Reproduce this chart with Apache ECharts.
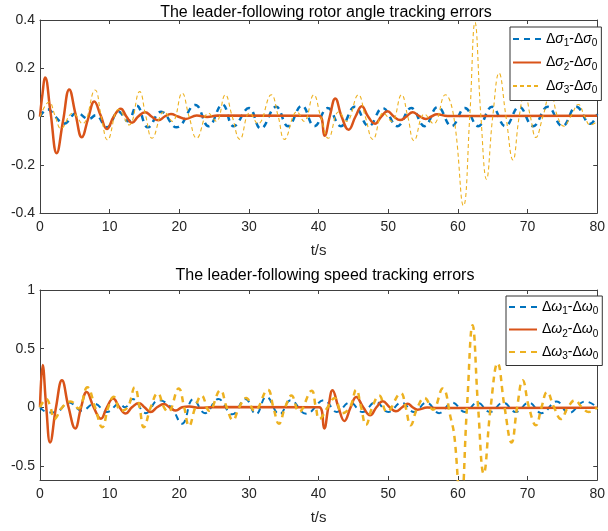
<!DOCTYPE html>
<html><head><meta charset="utf-8">
<script src="https://cdn.jsdelivr.net/npm/echarts@6/dist/echarts.min.js"></script>
<style>html,body{margin:0;padding:0;background:#fff}#c{width:608px;height:531px}</style>
</head><body><div id="c"></div>
<script>
// ---------- data (t in s, value) ----------
const titleTop = 'The leader-following rotor angle tracking errors';
const titleBottom = 'The leader-following speed tracking errors';
const xTicks = [0, 10, 20, 30, 40, 50, 60, 70, 80];
const yTicksTop = [-0.4, -0.2, 0, 0.2, 0.4];
const yTicksBottom = [-0.5, 0, 0.5, 1];

const sigma1 = [[0,0],[1.1,0.03],[2.2,0],[3.4,-0.03],[5.3,0.015],[7.0,-0.01],[8.0,0.005],[9.6,-0.045],[11.3,0.02],[12.6,-0.02],[13.9,0.045],[15.5,-0.045],[17.4,0.02],[19.6,-0.045],[22.3,0.048],[24.2,-0.04],[26.2,0.05],[27.8,-0.04],[30.0,0.035],[31.7,-0.05],[33.9,0.04],[35.6,-0.04],[37.6,0.045],[39.4,-0.04],[41.3,0.035],[43.2,-0.04],[45.2,0.04],[47.2,-0.04],[49.2,0.035],[51.3,-0.04],[53.3,0.035],[55.2,-0.04],[57.1,0.04],[59.1,-0.04],[61.0,0.035],[62.9,-0.04],[64.9,0.04],[66.8,-0.04],[68.8,0.04],[70.8,-0.04],[72.9,0.04],[75.0,-0.04],[77.0,0.04],[79.0,-0.03],[80,0.01]];
const sigma2 = [[0,0],[0.3,0.08],[0.75,0.162],[1.5,0.02],[2.4,-0.152],[3.3,-0.02],[4.2,0.112],[5.1,0.01],[6.0,-0.086],[6.9,-0.01],[7.8,0.062],[8.7,0.005],[9.6,-0.052],[10.6,0],[11.6,0.032],[12.4,0],[13.2,-0.026],[14.1,0],[15.1,0.018],[16.0,0],[17.0,-0.016],[17.9,0],[18.8,0.01],[19.8,0],[20.9,-0.01],[22.5,0.004],[24,-0.002],[25.5,0.004],[40.05,0.003],[40.85,-0.08],[41.6,0],[42.4,0.075],[43.3,0],[44.3,-0.055],[45.3,0],[46.2,0.042],[47.1,0],[48.1,-0.03],[49.0,0],[49.9,0.022],[50.8,0],[51.7,-0.015],[52.6,0],[53.5,0.018],[54.4,0.003],[55.4,-0.01],[56.2,0],[57,0.009],[58.5,0.002],[80,0.003]];
const sigma3 = [[0,0],[1.3,0.06],[2.2,0],[3.0,-0.05],[4.7,0.014],[6.1,-0.03],[7.9,0.11],[8.8,0],[9.7,-0.097],[11.3,0.03],[12.8,-0.035],[14.3,0.103],[15.2,0],[16.1,-0.09],[17.8,0.02],[19.0,-0.02],[20.4,0.097],[21.4,0],[22.5,-0.09],[24.2,0.014],[25.3,-0.02],[26.6,0.09],[27.6,0],[28.7,-0.095],[30.1,0.015],[31.3,-0.03],[33.2,0.09],[34.2,0],[35.1,-0.095],[36.9,0.02],[37.9,-0.02],[39.3,0.09],[40.3,0],[41.4,-0.09],[42.9,0.02],[44.0,-0.02],[45.7,0.09],[46.7,0],[47.8,-0.095],[49.3,0.015],[50.5,-0.02],[51.9,0.09],[52.8,0],[53.7,-0.1],[55.2,0.01],[56.5,-0.03],[58.2,0.09],[59.4,0.0],[60.8,-0.37],[61.7,0],[62.45,0.39],[63.3,0],[64.1,-0.26],[65.0,0],[65.9,0.18],[66.9,0],[67.9,-0.18],[68.8,0],[69.6,0.1],[70.4,0],[71.2,-0.087],[72.2,0],[73.3,0.1],[74.3,0],[75.2,-0.04],[76.2,0],[77.3,0.05],[78.2,0],[79.0,-0.035],[80,-0.02]];

const omega1 = [[0,0],[1.2,-0.045],[2.3,-0.04],[4.2,0.04],[6.0,-0.03],[7.8,0.03],[9.6,-0.04],[11.4,0.03],[12.2,0],[13.3,0.07],[15.2,-0.05],[17.0,0.06],[18.8,0],[20.4,-0.14],[22.0,0.07],[23.7,-0.05],[25.6,0.07],[27.6,-0.06],[29.5,0.07],[31.0,-0.06],[32.5,0.09],[34.4,-0.06],[36.0,0.06],[38.2,-0.055],[40.8,0.06],[42.6,-0.04],[44.5,0.04],[46.3,-0.04],[48.2,0.045],[50,-0.04],[51.9,0.04],[53.7,-0.04],[55.5,0.04],[57.3,-0.05],[59.2,0.04],[61,-0.04],[62.8,0.04],[64.6,-0.04],[66.5,0.04],[68.3,-0.04],[70.2,0.04],[72.0,-0.05],[74.2,0.05],[75.9,-0.05],[78.3,0.05],[80,0.0]];
const omega2 = [[0,0],[0.38,0.36],[0.9,0],[1.45,-0.30],[2.3,0],[3.15,0.23],[4.1,0],[5.06,-0.18],[5.9,0],[6.7,0.13],[7.7,0],[8.74,-0.097],[9.6,0],[10.5,0.074],[11.4,0],[12.3,-0.054],[13.2,0],[14.2,0.037],[15.0,0],[15.9,-0.04],[16.8,0],[17.8,0.028],[18.6,0],[19.5,-0.028],[20.4,0],[21.4,0.006],[23,-0.005],[25,0.003],[40.1,0],[40.8,-0.18],[41.4,0],[42.0,0.145],[42.85,0],[43.7,-0.117],[44.6,0],[45.4,0.088],[46.4,0],[47.4,-0.068],[48.3,0],[49.2,0.051],[50.2,0],[51.1,-0.034],[52.0,0],[52.8,0.03],[53.5,0],[54.2,-0.02],[55.6,-0.002],[57,-0.006],[80,-0.004]];
const omega3 = [[0,0],[0.9,0.07],[1.5,0],[2.05,-0.1],[3.2,0],[4.4,0.05],[5.5,-0.01],[6.8,0.17],[7.9,0],[8.95,-0.17],[9.8,0],[10.6,0.09],[11.6,-0.03],[12.6,0],[13.6,0.17],[14.3,0],[14.9,-0.17],[15.9,0],[16.9,0.12],[17.8,0],[18.4,-0.04],[19.9,0.16],[20.7,0],[21.4,-0.16],[22.3,0],[23.2,0.1],[24.3,-0.03],[25.9,0.145],[26.8,0],[27.7,-0.11],[28.6,0],[29.6,0.08],[30.8,-0.03],[32.7,0.15],[33.5,0],[34.3,-0.14],[35.2,0],[36.1,0.1],[37.2,-0.04],[39.0,0.14],[39.6,0],[40.1,-0.1],[41.3,0],[42.3,0.08],[43.4,-0.05],[44.5,0],[45.4,0.15],[46.1,0],[46.8,-0.15],[47.7,0],[48.7,0.1],[49.8,-0.04],[51.8,0.12],[52.5,0],[53.2,-0.154],[54.2,0],[55.2,0.08],[56.4,-0.02],[57.8,0.16],[59.0,-0.1],[59.5,-0.25],[60.4,-0.85],[61.3,0],[62.1,0.7],[62.9,0],[63.7,-0.565],[64.7,0],[65.7,0.376],[66.7,0],[67.7,-0.3],[68.5,0],[69.3,0.23],[70.2,0],[71.2,-0.154],[72.0,0],[72.8,0.13],[73.8,0],[74.8,-0.1],[75.8,0],[76.8,0.06],[77.8,0],[78.8,-0.04],[80,0]];

const namesTop = ['Δσ1-Δσ0', 'Δσ2-Δσ0', 'Δσ3-Δσ0'];
const namesBottom = ['Δω1-Δω0', 'Δω2-Δω0', 'Δω3-Δω0'];

// ---------- styling ----------
const C_BLUE = '#0072BD', C_ORANGE = '#D95319', C_YELLOW = '#EDB120';
const FONT = '"Liberation Sans", Arial, Helvetica, sans-serif';
const AX = '#404040';

function legendFmt(name) {
  const g = name.indexOf('σ') >= 0 ? 'σ' : 'ω';
  const a = name.charAt(2);
  return '{d|Δ}{i|' + g + '}{s|' + a + '}{d|-Δ}{i|' + g + '}{s|0}';
}
const rich = {
  d: {fontSize: 14, fontFamily: FONT, color: '#000'},
  i: {fontSize: 14, fontFamily: FONT, fontStyle: 'italic', color: '#000'},
  s: {fontSize: 10, fontFamily: FONT, color: '#000', padding: [9, 0, 0, 0]}
};

function xAx(gi, top) {
  return {
    type: 'value', gridIndex: gi, min: 0, max: 80, interval: 10,
    position: top ? 'top' : 'bottom',
    name: top ? '' : 't/s', nameLocation: 'middle', nameGap: 30,
    nameTextStyle: {fontSize: 15, fontFamily: FONT, color: '#262626'},
    axisLine: {show: true, onZero: false, lineStyle: {color: AX, width: 1}},
    axisTick: {show: true, inside: true, length: 4, lineStyle: {color: AX}},
    axisLabel: {show: !top, fontSize: 14, fontFamily: FONT, color: '#262626', margin: 7},
    splitLine: {show: false}
  };
}
function yAx(gi, right, min, max, opts) {
  return Object.assign({
    type: 'value', gridIndex: gi, min: min, max: max,
    position: right ? 'right' : 'left',
    axisLine: {show: true, onZero: false, lineStyle: {color: AX, width: 1}},
    axisTick: {show: true, inside: true, length: 4, lineStyle: {color: AX}},
    axisLabel: {show: !right, fontSize: 14, fontFamily: FONT, color: '#262626', margin: 5, showMinLabel: true},
    splitLine: {show: false}
  }, opts);
}

function line(name, data, gi, color, width, type) {
  return {
    name: name, type: 'line', xAxisIndex: gi * 2, yAxisIndex: gi * 2,
    data: data, smooth: 0.45, showSymbol: false, symbol: 'none',
    lineStyle: {color: color, width: width, type: type},
    itemStyle: {color: color}, clip: true, animation: false
  };
}

const chart = echarts.init(document.getElementById('c'), null, {renderer: 'canvas'});
const yBottomLeft = yAx(1, false, -0.62, 1, {splitNumber: 3});
yBottomLeft.axisLabel.showMinLabel = false;
yBottomLeft.axisLabel.formatter = function (v) {
  return yTicksBottom.some(t => Math.abs(t - v) < 1e-9) ? String(v) : '';
};
const yBottomRight = yAx(1, true, -0.62, 1, {splitNumber: 3});

const legendBase = {
  orient: 'vertical', itemWidth: 28, itemHeight: 14,
  backgroundColor: '#fff', borderColor: '#333', borderWidth: 1,
  itemStyle: {opacity: 0},
  formatter: legendFmt, textStyle: {rich: rich}
};

chart.setOption({
  animation: false,
  backgroundColor: '#fff',
  title: [
    {text: titleTop, left: 321, top: 0, textAlign: 'center', textStyle: {fontSize: 16, fontWeight: 'normal', fontFamily: FONT, color: '#000'}},
    {text: titleBottom, left: 320, top: 263, textAlign: 'center', textStyle: {fontSize: 16, fontWeight: 'normal', fontFamily: FONT, color: '#000'}}
  ],
  grid: [
    {left: 40, right: 7, top: 20, height: 193},
    {left: 40, right: 7, top: 290, height: 190}
  ],
  xAxis: [xAx(0, false), xAx(0, true), xAx(1, false), xAx(1, true)].map((a, i) => { a.gridIndex = i < 2 ? 0 : 1; return a; }),
  yAxis: [
    yAx(0, false, -0.4, 0.4, {interval: 0.2}),
    yAx(0, true, -0.4, 0.4, {interval: 0.2}),
    yBottomLeft, yBottomRight
  ],
  legend: [
    Object.assign({data: namesTop, left: 510, top: 27, itemGap: 7, padding: [5, 4, 5, 2]}, legendBase),
    Object.assign({data: namesBottom, left: 506, top: 296, itemGap: 6, padding: [4, 4, 4, 2]}, legendBase)
  ],
  series: [
    line(namesTop[0], sigma1, 0, C_BLUE, 2.5, [6, 5]),
    line(namesTop[1], sigma2, 0, C_ORANGE, 2.5, 'solid'),
    line(namesTop[2], sigma3, 0, C_YELLOW, 1.1, [4, 3]),
    line(namesBottom[0], omega1, 1, C_BLUE, 2, [6, 5]),
    line(namesBottom[1], omega2, 1, C_ORANGE, 2.5, 'solid'),
    line(namesBottom[2], omega3, 1, C_YELLOW, 2.5, [6, 5])
  ]
});
</script></body></html>
